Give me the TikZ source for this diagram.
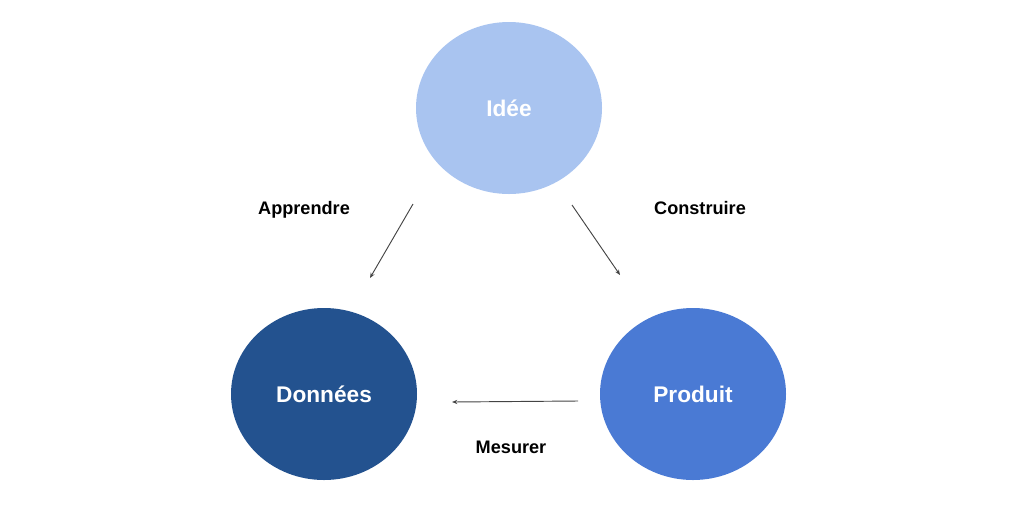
\documentclass[tikz,border=0pt]{standalone}
\usepackage{fontspec}
\setmainfont{Liberation Sans}
\usetikzlibrary{arrows.meta,shapes.geometric}
\definecolor{ideec}{HTML}{A9C4F0}
\definecolor{donc}{HTML}{23528F}
\definecolor{prodc}{HTML}{4A7AD4}
\definecolor{arrc}{HTML}{444444}
\tikzset{
  blob/.style={ellipse, minimum width=186*0.75pt, minimum height=172*0.75pt, inner sep=0pt, text=white, font=\fontsize{17}{20}\selectfont\bfseries},
  lab/.style={font=\fontsize{13.6}{16}\selectfont\bfseries, text=black, anchor=base},
  conn/.style={draw=arrc, line width=0.7pt, -{Stealth[length=4pt,width=3.2pt]}}
}
\begin{document}
\begin{tikzpicture}[x=0.75pt,y=-0.75pt]
\useasboundingbox (0,0) rectangle (1024,526);
\node[blob, fill=ideec] (idee) at (509,108) {Idée};
\node[blob, fill=donc] (donnees) at (324,394) {Données};
\node[blob, fill=prodc] (produit) at (693,394) {Produit};
\coordinate (a1) at (413,204);
\coordinate (a2) at (370,278);
\coordinate (c1) at (572,205);
\coordinate (c2) at (620,275);
\coordinate (m1) at (578,401);
\coordinate (m2) at (452,402);
\draw[conn] (a1) -- (a2);
\draw[conn] (c1) -- (c2);
\draw[conn] (m1) -- (m2);
\node[lab] (lapp) at (304,214) {Apprendre};
\node[lab] (lcons) at (700,214) {Construire};
\node[lab] (lmes) at (511,453) {Mesurer};
\end{tikzpicture}
\end{document}
